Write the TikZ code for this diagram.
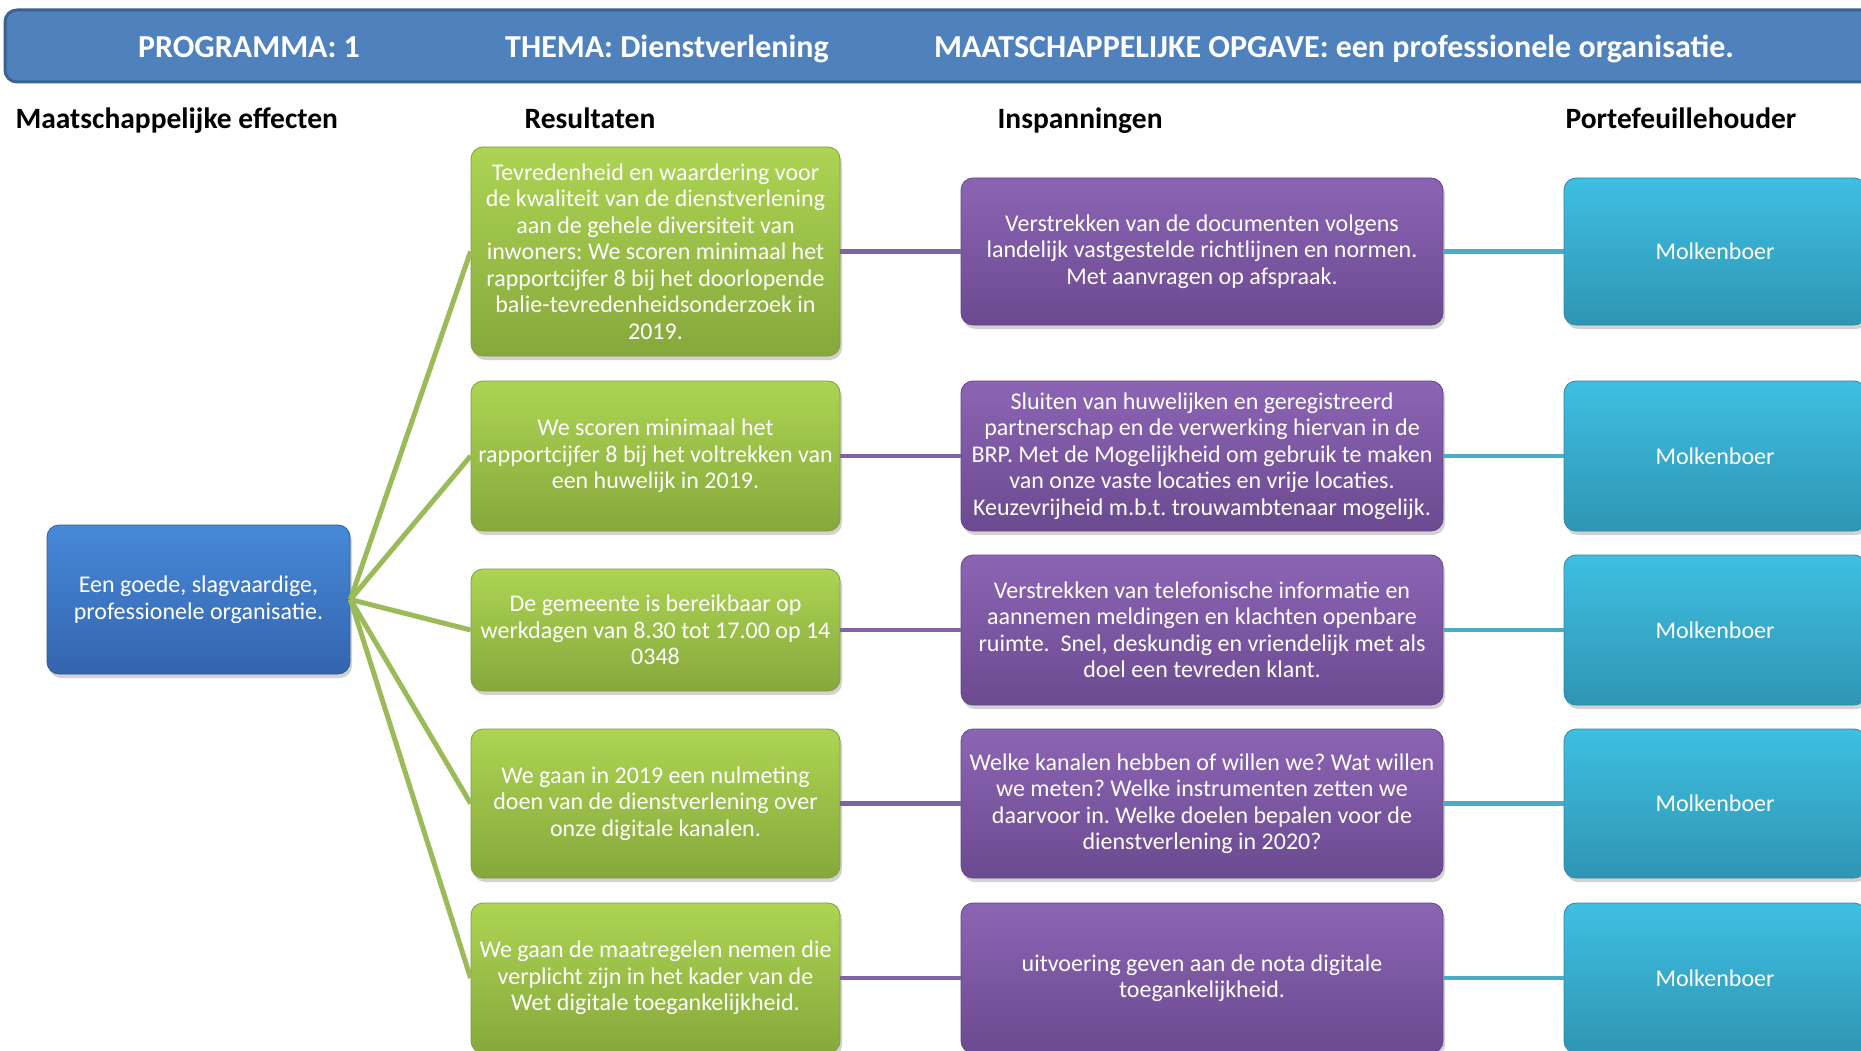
\documentclass[tikz,border=0pt]{standalone}
\usepackage{fontspec}
\setmainfont{Carlito}
\frenchspacing
\usetikzlibrary{shadows}
\definecolor{hdrblue}{HTML}{4F81BD}
\definecolor{hdrdark}{HTML}{3B6192}
\definecolor{blueT}{HTML}{4689D8}
\definecolor{blueB}{HTML}{3464AE}
\definecolor{blueD}{HTML}{2F5C9E}
\definecolor{greenT}{HTML}{ADD453}
\definecolor{greenB}{HTML}{86A83C}
\definecolor{greenD}{HTML}{7F9F3A}
\definecolor{purpT}{HTML}{8C64B4}
\definecolor{purpB}{HTML}{6B4A90}
\definecolor{purpD}{HTML}{634488}
\definecolor{cyanT}{HTML}{3EBFE2}
\definecolor{cyanB}{HTML}{2F95B3}
\definecolor{cyanD}{HTML}{2C8AA6}
\definecolor{gline}{HTML}{9BBB59}
\definecolor{pline}{HTML}{8064A2}
\definecolor{cline}{HTML}{4BACC6}
\begin{document}
\begin{tikzpicture}[x=1pt,y=-1pt,
  box/.style={rounded corners=12pt, align=center, text=white,
    font=\fontsize{24}{26.5}\selectfont, inner sep=0pt, line width=0.8pt,
    drop shadow={opacity=0.35,shadow xshift=2pt,shadow yshift=-4pt}},
  bbox/.style={box, top color=blueT, bottom color=blueB, draw=blueD, minimum width=303pt},
  gbox/.style={box, top color=greenT, bottom color=greenB, draw=greenD, minimum width=369pt},
  pbox/.style={box, top color=purpT, bottom color=purpB, draw=purpD, minimum width=482pt},
  cbox/.style={box, top color=cyanT, bottom color=cyanB, draw=cyanD, minimum width=302pt},
  hdrtext/.style={text=white, anchor=base, font=\fontsize{32}{36}\selectfont\bfseries},
  coltext/.style={text=black, anchor=base, font=\fontsize{29.5}{34}\selectfont\bfseries},
  gconn/.style={draw=gline, line width=5pt},
  pconn/.style={draw=pline, line width=4.5pt},
  cconn/.style={draw=cline, line width=4.5pt}]
\useasboundingbox (0,0) rectangle (1861,1051);
\fill[white] (0,0) rectangle (1861,1051);
% header
\node[draw=hdrdark, fill=hdrblue, rounded corners=12pt, line width=3pt,
  minimum width=1880pt, minimum height=72pt, inner sep=0pt] (hdr) at (945,46) {};
\node[hdrtext] (h1) at (249,58) {PROGRAMMA: 1};
\node[hdrtext] (h2) at (667,58) {THEMA: Dienstverlening};
\node[hdrtext] (h3) at (1334,58) {MAATSCHAPPELIJKE OPGAVE: een professionele organisatie.};
% column headings
\node[coltext, anchor=base west] (c1) at (12,128.5) {Maatschappelijke effecten};
\node[coltext] (c2) at (590,128.5) {Resultaten};
\node[coltext] (c3) at (1080,128.5) {Inspanningen};
\node[coltext] (c4) at (1681,128.5) {Portefeuillehouder};
% left box
\node[bbox, minimum height=149pt] (b) at (198.5,599.5) {Een goede, slagvaardige,\\professionele organisatie.};
% green boxes
\node[gbox, minimum height=209pt] (g1) at (655.5,251.5) {Tevredenheid en waardering voor\\de kwaliteit van de dienstverlening\\aan de gehele diversiteit van\\inwoners: We scoren minimaal het\\rapportcijfer 8 bij het doorlopende\\balie-tevredenheidsonderzoek in\\2019.};
\node[gbox, minimum height=150pt] (g2) at (655.5,456) {We scoren minimaal het\\rapportcijfer 8 bij het voltrekken van\\een huwelijk in 2019.};
\node[gbox, minimum height=122pt] (g3) at (655.5,630) {De gemeente is bereikbaar op\\werkdagen van 8.30 tot 17.00 op 14\\0348};
\node[gbox, minimum height=149pt] (g4) at (655.5,803.5) {We gaan in 2019 een nulmeting\\doen van de dienstverlening over\\onze digitale kanalen.};
\node[gbox, minimum height=150pt] (g5) at (655.5,978) {We gaan de maatregelen nemen die\\verplicht zijn in het kader van de\\Wet digitale toegankelijkheid.};
% purple boxes
\node[pbox, minimum height=147pt] (p1) at (1202,251.5) {Verstrekken van de documenten volgens\\landelijk vastgestelde richtlijnen en normen.\\Met aanvragen op afspraak.};
\node[pbox, minimum height=150pt] (p2) at (1202,456) {Sluiten van huwelijken en geregistreerd\\partnerschap en de verwerking hiervan in de\\BRP. Met de Mogelijkheid om gebruik te maken\\van onze vaste locaties en vrije locaties.\\Keuzevrijheid m.b.t. trouwambtenaar mogelijk.};
\node[pbox, minimum height=150pt] (p3) at (1202,630) {Verstrekken van telefonische informatie en\\aannemen meldingen en klachten openbare\\ruimte.\ \ Snel, deskundig en vriendelijk met als\\doel een tevreden klant.};
\node[pbox, minimum height=149pt] (p4) at (1202,803.5) {Welke kanalen hebben of willen we? Wat willen\\we meten? Welke instrumenten zetten we\\daarvoor in. Welke doelen bepalen voor de\\dienstverlening in 2020?};
\node[pbox, minimum height=150pt] (p5) at (1202,978) {uitvoering geven aan de nota digitale\\toegankelijkheid.};
% cyan boxes
\node[cbox, minimum height=147pt] (k1) at (1715,251.5) {Molkenboer};
\node[cbox, minimum height=150pt] (k2) at (1715,456) {Molkenboer};
\node[cbox, minimum height=150pt] (k3) at (1715,630) {Molkenboer};
\node[cbox, minimum height=149pt] (k4) at (1715,803.5) {Molkenboer};
\node[cbox, minimum height=150pt] (k5) at (1715,978) {Molkenboer};
% connectors
\foreach \i in {1,...,5} {
  \draw[gconn] (b.east) -- (g\i.west);
  \draw[pconn] (g\i.east) -- (p\i.west);
  \draw[cconn] (p\i.east) -- (k\i.west);
}
\end{tikzpicture}
\end{document}
